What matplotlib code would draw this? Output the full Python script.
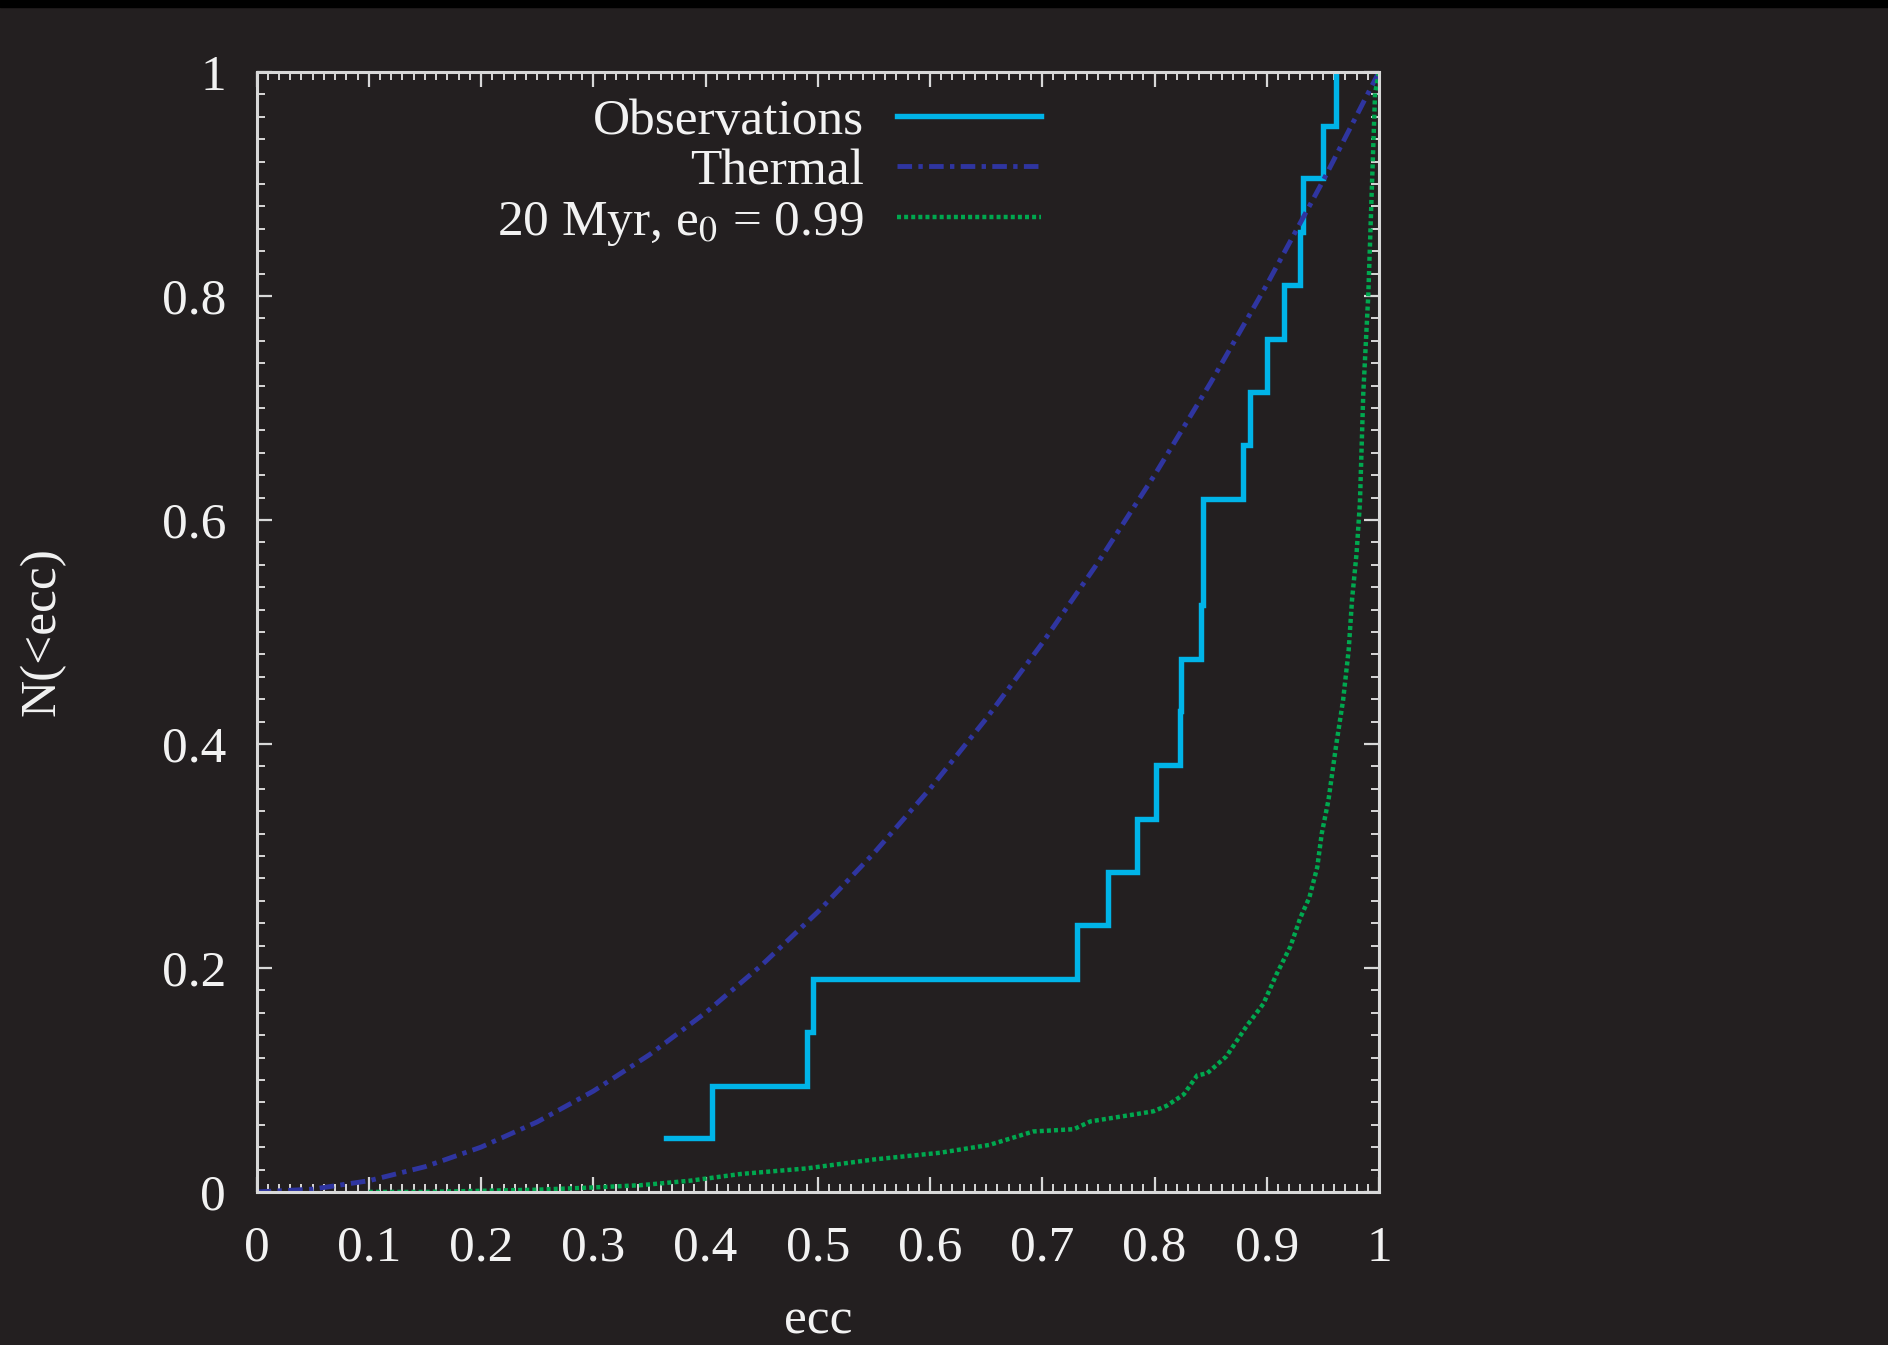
import matplotlib
matplotlib.use("Agg")
import matplotlib.pyplot as plt
from matplotlib.patches import Rectangle
from matplotlib.ticker import MultipleLocator

# observed eccentricities (cumulative step)
obs_ecc = [0.365, 0.4055, 0.490, 0.4955, 0.731, 0.7586, 0.784, 0.801, 0.823, 0.824,
           0.8415, 0.843, 0.843, 0.879, 0.885, 0.900, 0.915, 0.930, 0.932, 0.950, 0.962]
obs_frac = [0.048, 0.095, 0.143, 0.190, 0.238, 0.286, 0.333, 0.381, 0.429, 0.476,
            0.524, 0.571, 0.619, 0.667, 0.714, 0.762, 0.810, 0.857, 0.905, 0.952, 1.0]

# thermal distribution
thermal_ecc = [0.0, 0.05, 0.1, 0.15, 0.2, 0.25, 0.3, 0.35, 0.4, 0.45, 0.5,
               0.55, 0.6, 0.65, 0.7, 0.75, 0.8, 0.85, 0.9, 0.95, 1.0]
thermal_frac = [0.0, 0.0025, 0.01, 0.0225, 0.04, 0.0625, 0.09, 0.1225, 0.16, 0.2025, 0.25,
                0.3025, 0.36, 0.4225, 0.49, 0.5625, 0.64, 0.7225, 0.81, 0.9025, 1.0]

# 20 Myr simulation, e0 = 0.99
sim_ecc = [0.10, 0.15, 0.2, 0.25, 0.3, 0.342, 0.386, 0.431, 0.49, 0.52, 0.55, 0.609, 0.653,
           0.692, 0.728, 0.743, 0.787, 0.799, 0.811, 0.826, 0.838, 0.847, 0.864, 0.882,
           0.897, 0.909, 0.921, 0.930, 0.938, 0.945, 0.949, 0.955, 0.962, 0.968, 0.973,
           0.976, 0.980, 0.983, 0.986, 0.9905, 0.9935, 0.9965, 1.0]
sim_frac = [0.0, 0.0, 0.001, 0.002, 0.004, 0.006, 0.010, 0.016, 0.021, 0.025, 0.029, 0.035,
            0.042, 0.054, 0.056, 0.063, 0.070, 0.072, 0.077, 0.087, 0.104, 0.106, 0.121,
            0.148, 0.168, 0.195, 0.219, 0.245, 0.263, 0.290, 0.320, 0.350, 0.400, 0.439,
            0.484, 0.529, 0.570, 0.615, 0.713, 0.802, 0.892, 0.981, 1.0]

labels = ["Observations", "Thermal", r"20 Myr, e$_{\rm 0}$ = 0.99"]

bg = "#231f20"
fg = "#f2f2f2"
plt.rcParams["font.family"] = ["Liberation Serif", "DejaVu Serif"]
plt.rcParams["mathtext.fontset"] = "stix"
plt.rcParams["font.size"] = 37

fig = plt.figure(figsize=(18.88, 13.45), dpi=100, facecolor=bg)
fig.patches.append(Rectangle((0, 1 - 7 / 1345), 1, 7 / 1345, transform=fig.transFigure,
                             color="black", zorder=0))
ax = fig.add_axes([0.1359, 0.1138, 0.5945, 0.8327])
ax.set_facecolor(bg)

ax.step(obs_ecc, obs_frac, where="post", color="#00b4e8", lw=3.9, label=labels[0],
        solid_joinstyle="miter")
ax.plot(thermal_ecc, thermal_frac, color="#2f35a0", lw=3.5,
        linestyle=(0, (3.0, 1.3, 0.9, 1.3)), label=labels[1])
ax.plot(sim_ecc, sim_frac, color="#00a84f", lw=3.2,
        linestyle=(0, (0.9, 0.7)), label=labels[2])

ax.set_xlim(0, 1)
ax.set_ylim(0, 1)
ax.xaxis.set_major_locator(MultipleLocator(0.1))
ax.xaxis.set_minor_locator(MultipleLocator(0.01))
ax.yaxis.set_major_locator(MultipleLocator(0.2))
ax.yaxis.set_minor_locator(MultipleLocator(0.02))
ax.xaxis.set_major_formatter(lambda v, p: "%g" % round(v, 2))
ax.yaxis.set_major_formatter(lambda v, p: "%g" % round(v, 2))

for s in ax.spines.values():
    s.set_color("#d8d8d8")
    s.set_linewidth(2.2)
ax.tick_params(which="both", direction="in", top=True, right=True, colors="#d8d8d8",
               labelcolor=fg)
ax.tick_params(which="major", length=11, width=1.6)
ax.tick_params(which="minor", length=6, width=1.4)
ax.tick_params(axis="x", which="major", pad=24)
ax.tick_params(axis="y", which="major", pad=22)

ax.set_xlabel("ecc", color=fg, labelpad=19)
ax.set_ylabel("N(<ecc)", color=fg, labelpad=69)

leg = ax.legend(loc="upper right", bbox_to_anchor=(0.699, 0.977), frameon=False,
                markerfirst=False, handlelength=2.8, handletextpad=0.65,
                borderpad=0, borderaxespad=0, labelspacing=0.07)
for t in leg.get_texts():
    t.set_color(fg)

fig.savefig("out.png", dpi=100, facecolor=bg)
